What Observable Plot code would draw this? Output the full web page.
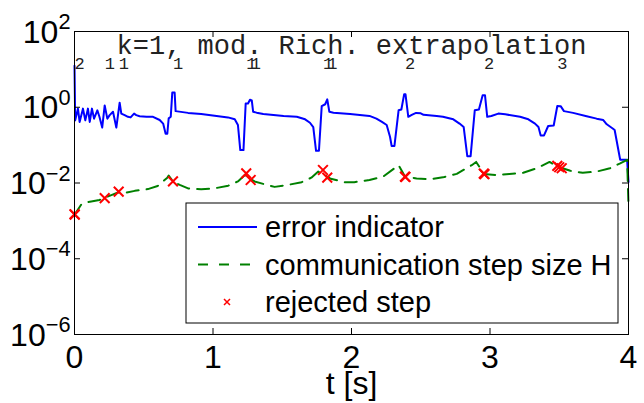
<!DOCTYPE html>
<html>
<head>
<meta charset="utf-8">
<script src="https://cdn.jsdelivr.net/npm/d3@7"></script>
<script src="https://cdn.jsdelivr.net/npm/@observablehq/plot@0.6"></script>
<style>
  html, body { margin: 0; padding: 0; background: #fff; }
</style>
</head>
<body>
<div id="chart"></div>
<script>
// Error indicator over time
const errT = [0.000, 0.005, 0.025, 0.037, 0.061, 0.078, 0.097, 0.110, 0.126, 0.141, 0.165, 0.180, 0.200, 0.218,
  0.237, 0.254, 0.278, 0.302, 0.326, 0.338, 0.362, 0.386, 0.405, 0.430, 0.446, 0.470, 0.520, 0.567, 0.615,
  0.640, 0.658, 0.670, 0.680, 0.695, 0.706, 0.723, 0.730, 0.820, 0.915, 1.012, 1.108, 1.157, 1.180, 1.197,
  1.220, 1.236, 1.253, 1.267, 1.280, 1.290, 1.315, 1.363, 1.510, 1.605, 1.665, 1.700, 1.724, 1.744, 1.765,
  1.785, 1.810, 1.825, 1.840, 1.870, 1.990, 2.130, 2.180, 2.220, 2.254, 2.278, 2.290, 2.310, 2.340, 2.360,
  2.380, 2.390, 2.410, 2.435, 2.466, 2.500, 2.520, 2.615, 2.660, 2.735, 2.780, 2.810, 2.836, 2.860, 2.890,
  2.920, 2.947, 2.964, 2.980, 3.010, 3.060, 3.110, 3.217, 3.277, 3.325, 3.350, 3.366, 3.390, 3.420, 3.460,
  3.486, 3.510, 3.534, 3.600, 3.698, 3.770, 3.818, 3.843, 3.886, 3.900, 3.940, 3.990, 4.000];
const errV = [12.5, 0.45, 0.92, 0.41, 0.92, 0.45, 0.92, 0.41, 0.92, 0.50, 0.83, 0.56, 0.29, 1.12,
  0.50, 0.62, 0.76, 0.29, 1.32, 0.68, 0.62, 0.56, 0.54, 0.68, 0.62, 0.58, 0.56, 0.56, 0.46,
  0.37, 0.20, 0.20, 0.51, 0.56, 2.44, 2.44, 0.79, 0.71, 0.66, 0.60, 0.54, 0.48, 0.34, 0.074,
  0.074, 1.26, 1.26, 1.58, 1.51, 0.76, 0.72, 0.66, 0.59, 0.56, 0.48, 0.39, 0.30, 0.071, 0.071,
  1.07, 1.20, 1.62, 0.76, 0.72, 0.66, 0.59, 0.50, 0.41, 0.34, 0.166, 0.095, 0.095, 0.83, 0.87,
  2.19, 2.19, 0.56, 0.63, 0.71, 0.69, 0.63, 0.59, 0.56, 0.48, 0.37, 0.30, 0.051, 0.051, 0.83,
  0.87, 2.07, 2.07, 0.56, 0.59, 0.68, 0.65, 0.56, 0.48, 0.37, 0.30, 0.18, 0.18, 0.32, 0.33,
  1.08, 1.07, 0.79, 0.71, 0.58, 0.50, 0.46, 0.355, 0.275, 0.25, 0.041, 0.041, 0.0107];

// Communication step size H
const stepT = [0.000, 0.050, 0.100, 0.180, 0.218, 0.266, 0.314, 0.374, 0.435, 0.530, 0.600, 0.670, 0.680,
  0.711, 0.760, 0.820, 0.915, 1.010, 1.110, 1.180, 1.230, 1.265, 1.300, 1.370, 1.445, 1.540, 1.640, 1.710,
  1.760, 1.805, 1.850, 1.950, 2.020, 2.130, 2.230, 2.310, 2.340, 2.386, 2.470, 2.567, 2.660, 2.760, 2.868,
  2.900, 2.957, 3.050, 3.140, 3.240, 3.337, 3.430, 3.490, 3.580, 3.670, 3.770, 3.866, 3.940, 3.990, 4.000];
const stepH = [0.00145, 0.00275, 0.00316, 0.00355, 0.0041, 0.0048, 0.0056, 0.0056, 0.0062, 0.0069, 0.0083, 0.0138, 0.0158,
  0.011, 0.0089, 0.0072, 0.0068, 0.0072, 0.0085, 0.011, 0.0162, 0.0132, 0.011, 0.0093, 0.0079, 0.0089, 0.0105, 0.0138,
  0.020, 0.0162, 0.0129, 0.0105, 0.0105, 0.012, 0.0148, 0.0245, 0.0295, 0.0148, 0.0132, 0.0126, 0.0141, 0.0174, 0.0295,
  0.036, 0.0174, 0.0162, 0.0174, 0.0186, 0.0245, 0.036, 0.0269, 0.021, 0.0186, 0.020, 0.0245, 0.033, 0.041, 0.0026];

// Rejected steps (time, step size)
const rejT = [0.000, 0.002, 0.218, 0.319, 0.711, 1.240, 1.272, 1.794, 1.825, 2.386, 2.390, 2.955, 2.960, 3.486, 3.500, 3.518];
const rejH = [0.0015, 0.00146, 0.0040, 0.0059, 0.011, 0.018, 0.012, 0.022, 0.0138, 0.0148, 0.0144, 0.0176, 0.0171, 0.0282, 0.026, 0.0245];

// Number of rejections per step
const countT = [0.000, 0.218, 0.319, 0.711, 1.240, 1.272, 1.794, 1.825, 2.386, 2.957, 3.486];
const countN = [2, 1, 1, 1, 1, 1, 1, 1, 2, 2, 3];

const xTicks = [0, 1, 2, 3, 4];
const yTicks = [1e-6, 1e-4, 1e-2, 1e0, 1e2];
const titleText = "k=1, mod. Rich. extrapolation";
const xLabel = "t [s]";
const legendLabels = ["error indicator", "communication step size H", "rejected step"];

const W = 644, H = 403;
const mL = 74, mR = 16, mT = 31, mB = 69;
const innerW = W - mL - mR, innerH = H - mT - mB;
const tickLen = 6;
const sans = "'Liberation Sans', Arial, Helvetica, sans-serif";
const mono = "'Liberation Mono', 'Courier New', monospace";

const err = errT.map((t, i) => ({t, v: errV[i]}));
const step = stepT.map((t, i) => ({t, h: stepH[i]}));
const rej = rejT.map((t, i) => ({t, h: rejH[i]}));
const counts = countT.map((t, i) => ({t, n: String(countN[i])}));
const inner = (a) => a.slice(1, -1);
const powLabel = (d) => "10^" + Math.round(Math.log10(d));

const chart = Plot.plot({
  width: W,
  height: H,
  marginLeft: mL,
  marginRight: mR,
  marginTop: mT,
  marginBottom: mB,
  style: {fontFamily: sans, fontSize: "32px", background: "white", color: "black", overflow: "visible"},
  x: {domain: [0, 4]},
  y: {type: "log", domain: [1e-6, 1e2]},
  marks: [
    Plot.line(err, {x: "t", y: "v", stroke: "#0000ff", strokeWidth: 2}),
    Plot.line(step, {x: "t", y: "h", stroke: "#008000", strokeWidth: 2, strokeDasharray: "12,8"}),
    Plot.dot(rej, {x: "t", y: "h", symbol: "times", r: 4.5, stroke: "#ff0000", strokeWidth: 2}),
    Plot.text(counts, {x: "t", text: "n", frameAnchor: "top", dy: 37, lineAnchor: "bottom",
      textAnchor: "start", fontFamily: mono, fontSize: 17, fill: "#222"}),
    Plot.text([titleText], {frameAnchor: "top", dy: 22, lineAnchor: "bottom",
      fontFamily: mono, fontSize: 27, fill: "#222"}),
    Plot.frame({stroke: "black", strokeWidth: 1}),
    // inward tick marks on all four sides
    Plot.tickX(inner(xTicks), {x: (d) => d, insetTop: innerH - tickLen, stroke: "black"}),
    Plot.tickX(inner(xTicks), {x: (d) => d, insetBottom: innerH - tickLen, stroke: "black"}),
    Plot.tickY(inner(yTicks), {y: (d) => d, insetRight: innerW - tickLen, stroke: "black"}),
    Plot.tickY(inner(yTicks), {y: (d) => d, insetLeft: innerW - tickLen, stroke: "black"}),
    Plot.axisX({ticks: xTicks, tickSize: 0, tickPadding: 11, label: null, tickFormat: (d) => String(d)}),
    Plot.axisY({ticks: [], label: null}),
    Plot.text(yTicks, {y: (d) => d, text: powLabel,
      frameAnchor: "left", textAnchor: "end", dx: -4, dy: 11, lineAnchor: "bottom", fontSize: 32}),
    Plot.text([xLabel], {frameAnchor: "bottom", dy: 59, lineAnchor: "bottom", fontSize: 32})
  ]
});

document.getElementById("chart").appendChild(chart);

// y tick labels as powers of ten with superscript exponents
d3.select(chart).selectAll("text").each(function () {
  const s = this.textContent;
  if (!s.startsWith("10^")) return;
  const e = s.slice(3).replace("-", "\u2212");
  const t = d3.select(this);
  t.text("10");
  t.append("tspan").attr("dy", "-0.62em").attr("font-size", "0.68em").text(e);
});

// legend box
const svg = d3.select(chart);
const lg = svg.append("g").attr("font-family", sans).attr("font-size", 29).attr("text-anchor", "start");
lg.append("rect").attr("x", 186).attr("y", 203).attr("width", 432).attr("height", 120)
  .attr("fill", "white").attr("stroke", "black").attr("stroke-width", 1);
const rowY = [227, 264.5, 302];
lg.append("line").attr("x1", 198).attr("x2", 257).attr("y1", rowY[0]).attr("y2", rowY[0])
  .attr("stroke", "#0000ff").attr("stroke-width", 2);
lg.append("line").attr("x1", 198).attr("x2", 257).attr("y1", rowY[1]).attr("y2", rowY[1])
  .attr("stroke", "#008000").attr("stroke-width", 2).attr("stroke-dasharray", "10,11");
lg.append("path").attr("d", `M224,${rowY[2] - 3}L230,${rowY[2] + 3}M224,${rowY[2] + 3}L230,${rowY[2] - 3}`)
  .attr("stroke", "#ff0000").attr("stroke-width", 1.5).attr("fill", "none");
legendLabels.forEach((s, i) => {
  lg.append("text").attr("x", 265).attr("y", rowY[i] + 10).attr("fill", "black")
    .attr("text-anchor", "start").text(s);
});
</script>
</body>
</html>
